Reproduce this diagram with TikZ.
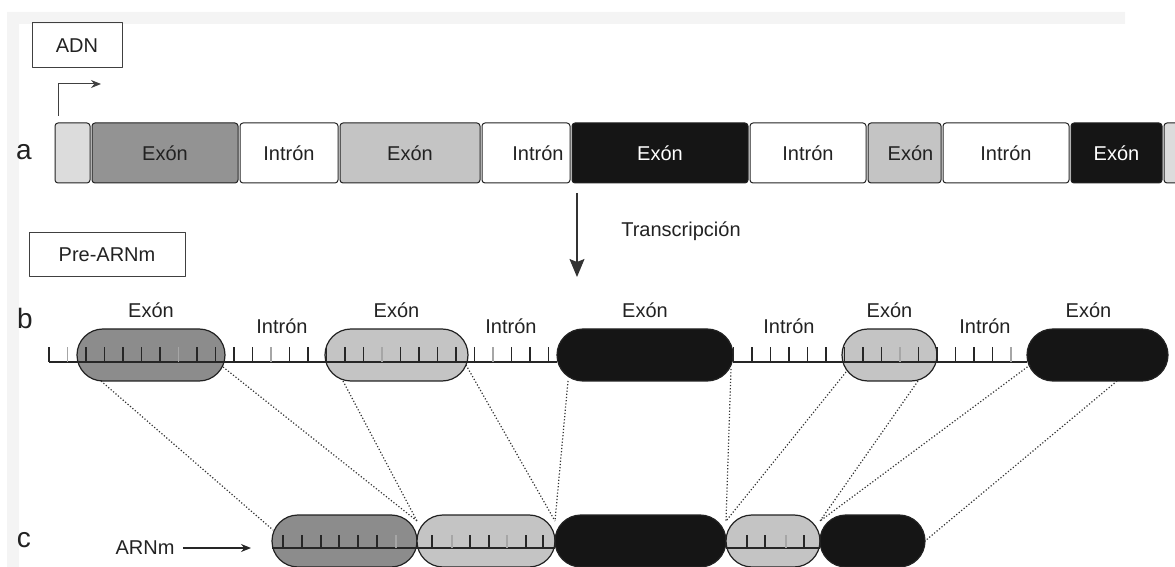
\documentclass[tikz,border=0pt]{standalone}
\usepackage{fontspec}
\setmainfont{Liberation Sans}
\usetikzlibrary{positioning,calc,arrows.meta}
\definecolor{exdark}{HTML}{939393}
\definecolor{pilldark}{HTML}{8C8C8C}
\definecolor{exlight}{HTML}{C4C4C4}
\definecolor{exstub}{HTML}{DCDCDC}
\definecolor{exblack}{HTML}{151515}
\definecolor{scan}{HTML}{F4F4F4}
\definecolor{ink}{HTML}{222222}
\tikzset{
	seg/.style={draw=ink, line width=0.5pt, rounded corners=1.5pt, minimum height=30pt, inner sep=0pt, outer sep=0pt, text=ink},
	pill/.style={draw=ink, line width=0.6pt, rounded corners=13pt, minimum height=26pt, inner sep=0pt, outer sep=0pt},
	tag/.style={draw=black!75, line width=0.5pt, inner sep=0pt, text=ink},
	lbl/.style={inner sep=0pt, text=ink},
	rowlbl/.style={inner sep=0pt, text=ink, font=\fontsize{14}{16}\selectfont},
	link/.style={densely dotted, line width=0.6pt, black!80},
	tick/.style={line width=0.6pt, black!85},
	strand/.style={line width=0.8pt, black!85},
}
\begin{document}
\begin{tikzpicture}[x=0.5pt, y=-0.5pt, font=\fontsize{10}{12}\selectfont, line join=round, >=stealth]
	\useasboundingbox (0,0) rectangle (1175,567);
	\fill[scan] (7,12) rectangle (1125,24) (7,24) rectangle (19,567);
	\node[tag, minimum width=45pt, minimum height=22.5pt] (adn) at (77,45.5) {ADN};
	\node[tag, minimum width=78pt, minimum height=22pt] (pre) at (107,255) {Pre-ARNm};
	\node[rowlbl] (la) at (24,152) {a};
	\node[rowlbl] (lb) at (25,318) {b};
	\node[rowlbl] (lc) at (24,540) {c};
	\node[seg, fill=exstub, minimum width=17.5pt, anchor=west] (a0) at (55,153) {};
	\node[seg, fill=exdark, minimum width=73pt, right=1pt of a0] (exA1) {Exón};
	\node[seg, fill=white, minimum width=49pt, right=1pt of exA1] (inA1) {Intrón};
	\node[seg, fill=exlight, minimum width=70pt, right=1pt of inA1] (exA2) {Exón};
	\node[seg, fill=white, minimum width=44pt, right=1pt of exA2] (inA2) {\hspace{12pt}Intrón};
	\node[seg, fill=exblack, text=white!92, minimum width=88pt, right=1pt of inA2] (exA3) {Exón};
	\node[seg, fill=white, minimum width=58pt, right=1pt of exA3] (inA3) {Intrón};
	\node[seg, fill=exlight, minimum width=36.5pt, right=1pt of inA3] (exA4) {\hspace{6pt}Exón};
	\node[seg, fill=white, minimum width=63pt, right=1pt of exA4] (inA4) {Intrón\hspace{8pt}};
	\node[seg, fill=exblack, text=white!92, minimum width=45.5pt, right=1pt of inA4] (exA5) {Exón};
	\node[seg, fill=exstub, minimum width=8pt, right=1pt of exA5] (a11) {};
	\coordinate (tss) at (101,84);
	\draw[black!75, line width=0.5pt, -{Stealth[length=5pt,width=4pt]}] ([xshift=1.5pt,yshift=3.5pt]a0.north west) |- (tss);
	\coordinate (trend) at (577,277);
	\draw[black!80, line width=0.6pt, -{Stealth[length=9pt,width=7.5pt,inset=1.5pt]}] ([xshift=2.5pt,yshift=-5pt]exA3.south west) -- (trend);
	\node[lbl] (trlbl) at (681,231) {Transcripción};
	\node[pill, fill=pilldark, minimum width=74pt] (b1) at (151,355) {};
	\node[pill, fill=exlight, minimum width=71.5pt] (b2) at (396.5,355) {};
	\node[pill, fill=exblack, minimum width=88pt] (b3) at (645,355) {};
	\node[pill, fill=exlight, minimum width=47.5pt] (b4) at (889.5,355) {};
	\node[pill, fill=exblack, minimum width=70.5pt] (b5) at (1097.5,355) {};
	\node[pill, fill=pilldark, minimum width=72.5pt] (c1) at (344.5,541) {};
	\node[pill, fill=exlight, minimum width=69pt, right=0pt of c1] (c2) {};
	\node[pill, fill=exblack, minimum width=85.5pt, right=0pt of c2] (c3) {};
	\node[pill, fill=exlight, minimum width=47pt, right=0pt of c3] (c4) {};
	\node[pill, fill=exblack, minimum width=52.5pt, right=0pt of c4] (c5) {};
	\draw[link] ($(b1.south west)+(24,0)$) -- ($(c1.west)+(1,-11)$);
	\draw[link] ($(b1.east)+(-2,12)$) -- ($(c1.east)+(0,-20)$);
	\draw[link] ($(b2.south west)+(18,0)$) -- ($(c2.west)+(0,-20)$);
	\draw[link] ($(b2.east)+(-2,10)$) -- ($(c2.east)+(0,-20)$);
	\draw[link] ($(b3.south west)+(11,0)$) -- ($(c3.west)+(0,-20)$);
	\draw[link] ($(b3.east)+(-2,14)$) -- ($(c3.east)+(0,-20)$);
	\draw[link] ($(b4.west)+(4,17)$) -- ($(c4.west)+(0,-20)$);
	\draw[link] ($(b4.south east)+(-19,0)$) -- ($(c4.east)+(0,-20)$);
	\draw[link] ($(b5.west)+(3,10)$) -- ($(c5.west)+(0,-20)$);
	\draw[link] ($(b5.south east)+(-51,0)$) -- (c5.east);
	\draw[strand] (49,362) -- (b3.west |- 0,362) (b3.east |- 0,362) -- (b5.west |- 0,362);
	\foreach \i in {0,...,27,37,38,...,52}
		\draw[tick] (49+18.5*\i,362) -- ++(0,-15);
	\foreach \i in {1,7,12,18,24,46,52}
		\draw[tick, black!35] (49+18.5*\i,362) -- ++(0,-15);
	\node[lbl] (elb1) [above=5.5pt of b1] {Exón};
	\node[lbl] (elb2) [above=5.5pt of b2] {Exón};
	\node[lbl] (elb3) [above=5.5pt of b3] {Exón};
	\node[lbl] (elb4) [above=5.5pt of b4] {Exón};
	\node[lbl] (elb5) [above=5.5pt of b5, xshift=-4.5pt] {Exón};
	\node[lbl] (ilb1) at (282,326) {Intrón};
	\node[lbl] (ilb2) at (511,326) {Intrón};
	\node[lbl] (ilb3) at (789,326) {Intrón};
	\node[lbl] (ilb4) at (985,326) {Intrón};
	\draw[strand] (c1.west |- 0,548) -- (c2.east |- 0,548) (c4.west |- 0,548) -- (c4.east |- 0,548);
	\foreach \x in {283,302,321,339,358,377,432,470,489,526,543,747,765,804}
		\draw[tick] (\x,548) -- ++(0,-13);
	\foreach \x in {396,452,507,786}
		\draw[tick, black!35] (\x,548) -- ++(0,-13);
	\node[lbl] (arnm) at (145,548) {ARNm};
	\draw[black!85, line width=0.6pt, -{Stealth[length=5pt,width=4pt]}, shorten <=4pt, shorten >=10.5pt] (arnm.east) -- (arnm.east -| c1.west);
\end{tikzpicture}
\end{document}
